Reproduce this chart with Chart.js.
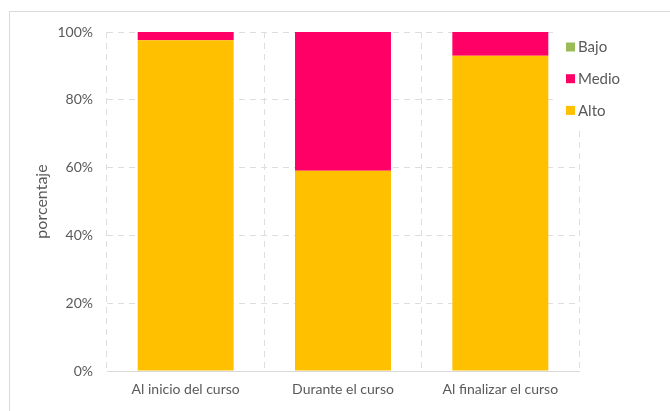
<!DOCTYPE html>
<html>
<head>
<meta charset="utf-8">
<script src="https://cdn.jsdelivr.net/npm/chart.js@4/dist/chart.umd.min.js"></script>
<style>
  body { margin: 0; background: #fff; }
  #wrap { position: relative; width: 670px; height: 411px; overflow: hidden; }
  #frame { position: absolute; left: 9px; top: 11px; width: 700px; height: 500px; border: 1px solid #d9d9d9; }
  canvas { position: absolute; left: 0; top: 0; }
</style>
</head>
<body>
<div id="wrap">
  <div id="frame"></div>
  <canvas id="chart" width="670" height="411"></canvas>
</div>
<script>
const categories = ['Al inicio del curso', 'Durante el curso', 'Al finalizar el curso'];
const alto = [97.6, 59.1, 93.0];
const medio = [2.4, 40.9, 7.0];
const bajo = [0, 0, 0];
const yTicks = [0, 20, 40, 60, 80, 100];

const textColor = '#595959';
const gridColor = '#dedede';
const fontFamily = 'Lato, "Open Sans", sans-serif';

// leyenda dentro del área del gráfico, como en Excel
const insideLegend = {
  id: 'insideLegend',
  afterDraw(chart) {
    const ctx = chart.ctx;
    ctx.save();
    ctx.fillStyle = '#ffffff';
    ctx.fillRect(558, 27, 110, 99);
    ctx.font = '15px ' + fontFamily;
    ctx.textBaseline = 'middle';
    const items = chart.data.datasets.slice().reverse();
    items.forEach((ds, i) => {
      const cy = 47 + i * 31.7;
      ctx.fillStyle = ds.backgroundColor;
      ctx.fillRect(566, cy - 4.5, 9, 9);
      ctx.fillStyle = textColor;
      ctx.fillText(ds.label, 578, cy + 0.5);
    });
    ctx.restore();
  }
};

new Chart(document.getElementById('chart'), {
  type: 'bar',
  data: {
    labels: categories,
    datasets: [
      { label: 'Alto', data: alto, backgroundColor: '#FFC000' },
      { label: 'Medio', data: medio, backgroundColor: '#FF0066' },
      { label: 'Bajo', data: bajo, backgroundColor: '#9BBB59' }
    ]
  },
  options: {
    responsive: false,
    animation: false,
    layout: { padding: { left: 0, top: 32, right: 91, bottom: 0 } },
    datasets: { bar: { barPercentage: 0.61, categoryPercentage: 1 } },
    plugins: {
      legend: { display: false },
      tooltip: { enabled: false }
    },
    scales: {
      x: {
        stacked: true,
        grid: { color: gridColor, drawTicks: false, offset: true },
        border: { display: true, color: '#d9d9d9', dash: [6, 5] },
        ticks: { color: textColor, font: { family: fontFamily, size: 14 }, padding: 10, maxRotation: 0 },
        afterFit(scale) { scale.height = 40; }
      },
      y: {
        stacked: true,
        min: 0,
        max: 100,
        grid: { color: gridColor, drawTicks: false },
        border: { display: false, dash: [6, 5] },
        afterBuildTicks(scale) { scale.ticks = yTicks.map(v => ({ value: v })); },
        ticks: {
          color: textColor,
          font: { family: fontFamily, size: 14 },
          padding: 14,
          callback: v => v + '%'
        },
        title: {
          display: true,
          text: 'porcentaje',
          color: textColor,
          font: { family: fontFamily, size: 16 },
          padding: { top: 32, bottom: 0 }
        },
        afterFit(scale) { scale.width = 107; }
      }
    }
  },
  plugins: [insideLegend]
});
</script>
</body>
</html>
